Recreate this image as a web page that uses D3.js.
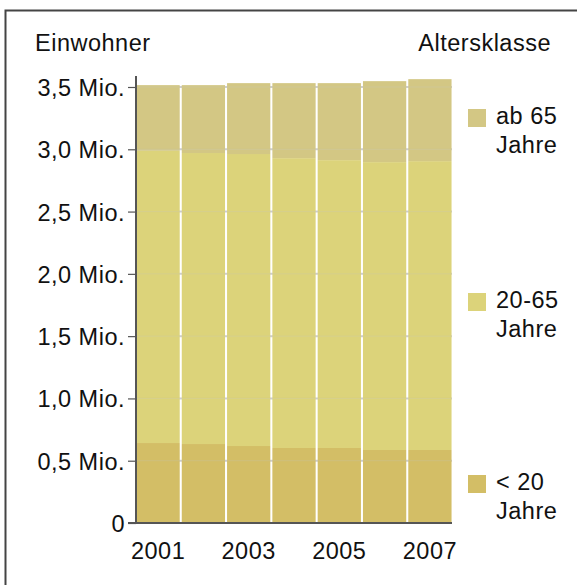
<!DOCTYPE html>
<html>
<head>
<meta charset="utf-8">
<script src="https://cdn.jsdelivr.net/npm/d3@7"></script>
<style>
  html, body { margin: 0; padding: 0; background: #fff; }
  svg { display: block; }
  text { font-family: "Liberation Sans", Arial, Helvetica, sans-serif; fill: #111; }
</style>
</head>
<body>
<svg id="chart" width="577" height="585"></svg>
<script>
// ---- data ----
const years = ["2001", "2002", "2003", "2004", "2005", "2006", "2007"];
const xTickLabels = ["2001", "2003", "2005", "2007"];
const under20 = [0.642, 0.634, 0.618, 0.602, 0.602, 0.586, 0.586];
const age20to65 = [2.346, 2.336, 2.344, 2.327, 2.311, 2.311, 2.319];
const over65 = [0.527, 0.545, 0.569, 0.602, 0.618, 0.650, 0.658];
const seriesKeys = ["under20", "age20to65", "over65"];
const seriesLabels = [["< 20", "Jahre"], ["20-65", "Jahre"], ["ab 65", "Jahre"]];
const seriesColors = ["#d3be66", "#dcd37a", "#d3c784"];
const yTickValues = [0, 0.5, 1.0, 1.5, 2.0, 2.5, 3.0, 3.5];
const yTickLabels = ["0", "0,5 Mio.", "1,0 Mio.", "1,5 Mio.", "2,0 Mio.", "2,5 Mio.", "3,0 Mio.", "3,5 Mio."];
const yTitle = "Einwohner";
const legendTitle = "Altersklasse";

// ---- build table ----
const table = years.map((y, i) => ({
  year: y, under20: under20[i], age20to65: age20to65[i], over65: over65[i]
}));
const stacked = d3.stack().keys(seriesKeys)(table);

const svg = d3.select("#chart");
const fontSize = 23.5;
const ls = "0.5px";

// frame
svg.append("rect")
  .attr("x", 5.5).attr("y", 10.5)
  .attr("width", 600).attr("height", 600)
  .attr("fill", "none").attr("stroke", "#444").attr("stroke-width", 2);

const x = d3.scaleBand().domain(years).range([136, 452]).paddingInner(0.045).paddingOuter(0.01);
const y = d3.scaleLinear().domain([0, 3.5]).range([523, 87]);

// gridlines beneath
svg.append("g").selectAll("line").data(yTickValues.slice(1)).join("line")
  .attr("x1", 136).attr("x2", 452)
  .attr("y1", d => y(d)).attr("y2", d => y(d))
  .attr("stroke", "#cfcfcf").attr("stroke-width", 2);

// bars
svg.append("g").selectAll("g").data(stacked).join("g")
  .attr("fill", (d, i) => seriesColors[i])
  .selectAll("rect").data(d => d).join("rect")
  .attr("x", d => x(d.data.year))
  .attr("width", x.bandwidth())
  .attr("y", d => y(d[1]))
  .attr("height", d => y(d[0]) - y(d[1]));

// gridlines over bars (faint)
svg.append("g").selectAll("line").data(yTickValues.slice(1)).join("line")
  .attr("x1", 136).attr("x2", 452)
  .attr("y1", d => y(d)).attr("y2", d => y(d))
  .attr("stroke", "#c8c8c8").attr("stroke-opacity", 0.25).attr("stroke-width", 1);

// y axis
const yAxis = d3.axisLeft(y).tickValues(yTickValues)
  .tickFormat((d, i) => yTickLabels[i]).tickSize(8).tickPadding(3);
const yg = svg.append("g").attr("transform", "translate(136,0)").call(yAxis);
yg.select(".domain").remove();
yg.selectAll(".tick line").attr("stroke", "#555").attr("stroke-width", 1.2);
yg.selectAll(".tick text")
  .attr("font-size", fontSize).attr("font-family", null)
  .style("letter-spacing", ls).attr("dy", "0.36em");
svg.append("line").attr("x1", 136).attr("x2", 136).attr("y1", 76).attr("y2", 523)
  .attr("stroke", "#555").attr("stroke-width", 2);

// x baseline
svg.append("line").attr("x1", 128).attr("x2", 452).attr("y1", 523).attr("y2", 523)
  .attr("stroke", "#555").attr("stroke-width", 2);

// x labels
svg.append("g").selectAll("text").data(xTickLabels).join("text")
  .attr("x", d => x(d) + x.bandwidth() / 2)
  .attr("y", 559)
  .attr("text-anchor", "middle")
  .attr("font-size", fontSize)
  .style("letter-spacing", ls)
  .text(d => d);

// titles
svg.append("text").attr("x", 35).attr("y", 51).attr("font-size", fontSize)
  .style("letter-spacing", ls).text(yTitle);
svg.append("text").attr("x", 551).attr("y", 51).attr("font-size", fontSize)
  .attr("text-anchor", "end")
  .style("letter-spacing", ls).text(legendTitle);

// legend
const legendY = [475, 293, 109];
const lg = svg.append("g").selectAll("g").data(seriesKeys).join("g")
  .attr("transform", (d, i) => `translate(468,${legendY[i]})`);
lg.append("rect").attr("width", 18).attr("height", 18)
  .attr("fill", (d, i) => seriesColors[i]);
lg.append("text").attr("x", 28).attr("y", 15).attr("font-size", fontSize)
  .style("letter-spacing", ls).text((d, i) => seriesLabels[i][0]);
lg.append("text").attr("x", 28).attr("y", 44).attr("font-size", fontSize)
  .style("letter-spacing", ls).text((d, i) => seriesLabels[i][1]);
</script>
</body>
</html>
